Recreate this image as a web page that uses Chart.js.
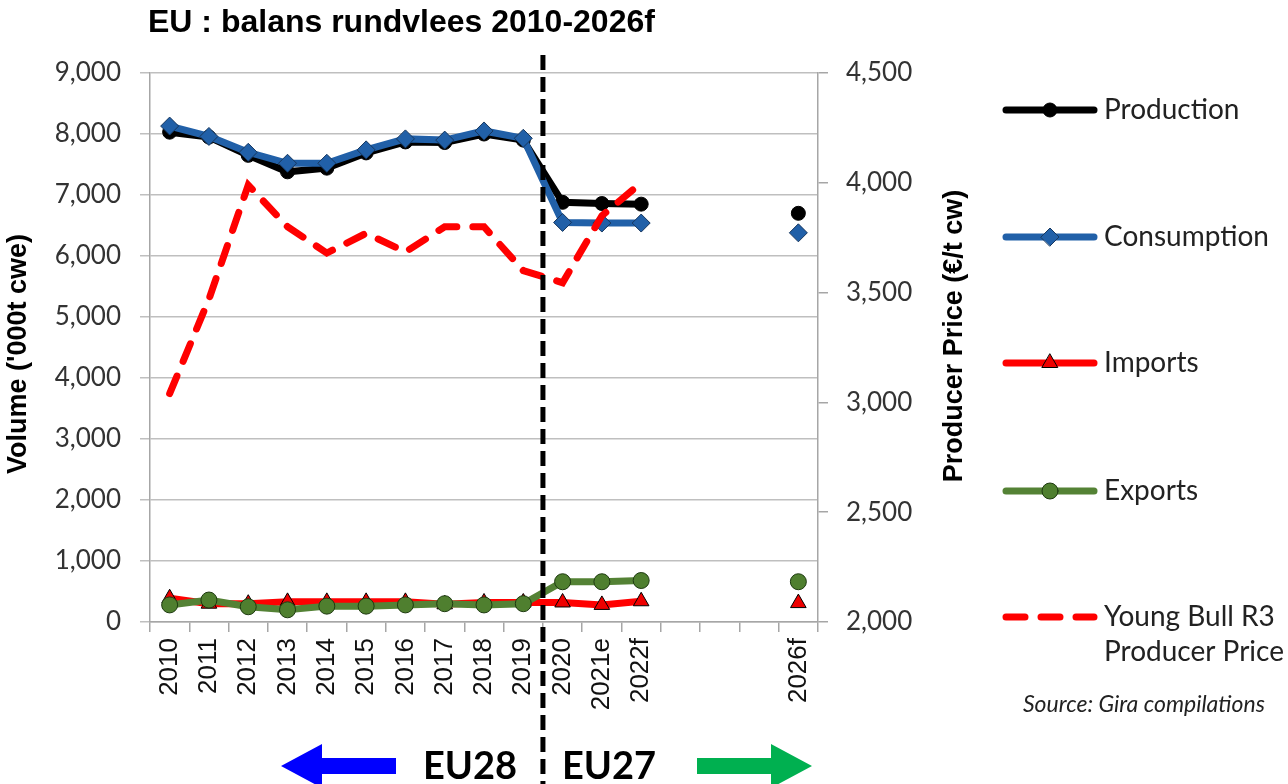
<!DOCTYPE html>
<html>
<head>
<meta charset="utf-8">
<title>EU : balans rundvlees 2010-2026f</title>
<script src="https://cdn.jsdelivr.net/npm/chart.js@4/dist/chart.umd.min.js"></script>
<style>
  html, body { margin: 0; padding: 0; background: #fff; }
  canvas { display: block; }
</style>
</head>
<body>
<canvas id="balance" width="1288" height="784"></canvas>
<script>
const chartTitle = 'EU : balans rundvlees 2010-2026f';
const years = ['2010', '2011', '2012', '2013', '2014', '2015', '2016', '2017', '2018', '2019', '2020', '2021e', '2022f', '', '', '', '2026f'];

// volume, '000t cwe
const production  = [8030, 7950, 7650, 7380, 7440, 7690, 7870, 7860, 8000, 7900, 6880, 6860, 6850, null, null, null, 6700];
const consumption = [8130, 7960, 7700, 7520, 7520, 7740, 7920, 7900, 8050, 7930, 6550, 6540, 6540, null, null, null, 6380];
const imports     = [390, 300, 300, 330, 330, 330, 330, 290, 320, 320, 320, 280, 340, null, null, null, 310];
const exports     = [280, 360, 250, 200, 260, 260, 280, 300, 280, 300, 660, 660, 680, null, null, null, 660];
// young bull R3, EUR/t cw
const bullPrice   = [3040, 3470, 3990, 3800, 3680, 3770, 3685, 3800, 3800, 3600, 3545, 3850, 4000, null, null, null, null];

const volumeTicks = [0, 9000, 1000];
const priceTicks = [2000, 4500, 500];

const seriesNames = ['Production', 'Consumption', 'Imports', 'Exports', 'Young Bull R3|Producer Price'];
const legendY = [110, 237, 363, 491, 617];

const fmt = v => v.toLocaleString('en-US');

const extras = {
  id: 'extras',
  afterDraw(chart) {
    const ctx = chart.ctx;
    const xs = chart.scales.x;
    ctx.save();

    // title
    ctx.fillStyle = '#000';
    ctx.textBaseline = 'middle';
    ctx.textAlign = 'left';
    ctx.font = 'bold 32px "Liberation Sans", Arial, sans-serif';
    ctx.fillText(chartTitle, 148, 23);

    // axis titles
    ctx.font = 'bold 27px "Liberation Sans", Arial, sans-serif';
    ctx.textAlign = 'center';
    ctx.save();
    ctx.translate(19, 354);
    ctx.rotate(-Math.PI / 2);
    ctx.fillText("Volume ('000t cwe)", 0, 0);
    ctx.restore();
    ctx.save();
    ctx.translate(955, 336);
    ctx.rotate(-Math.PI / 2);
    ctx.fillText('Producer Price (€/t cw)', 0, 0);
    ctx.restore();

    // EU28 / EU27 divider
    const divX = (xs.getPixelForValue(9) + xs.getPixelForValue(10)) / 2;
    ctx.strokeStyle = '#000';
    ctx.lineWidth = 5;
    ctx.setLineDash([15, 7]);
    ctx.beginPath();
    ctx.moveTo(divX, 55);
    ctx.lineTo(divX, 784);
    ctx.stroke();
    ctx.setLineDash([]);

    // legend
    chart.data.datasets.forEach((ds, i) => {
      const y = legendY[i];
      ctx.strokeStyle = ds.borderColor;
      ctx.lineWidth = ds.borderWidth;
      ctx.lineCap = 'round';
      ctx.setLineDash(ds.borderDash || []);
      ctx.beginPath();
      ctx.moveTo(1006, y);
      ctx.lineTo(1094, y);
      ctx.stroke();
      ctx.setLineDash([]);
      if (ds.pointRadius > 0) {
        ctx.fillStyle = ds.pointBackgroundColor;
        ctx.strokeStyle = ds.pointBorderColor;
        ctx.lineWidth = ds.pointBorderWidth;
        Chart.helpers.drawPoint(ctx, {
          pointStyle: ds.pointStyle, radius: ds.pointRadius,
          borderWidth: ds.pointBorderWidth, rotation: 0
        }, 1050, y);
      }
      ctx.fillStyle = '#222';
      ctx.font = '28px Lato, "Open Sans", sans-serif';
      ctx.textAlign = 'left';
      seriesNames[i].split('|').forEach((line, j) => {
        ctx.fillText(line, 1104, y + j * 35);
      });
    });

    ctx.font = 'italic 23px Lato, "Open Sans", sans-serif';
    ctx.fillStyle = '#222';
    ctx.fillText('Source: Gira compilations', 1023, 705);

    // arrows
    const arrow = (tail, tip, color) => {
      const dir = Math.sign(tip - tail);
      const base = tip - dir * 41;
      const cy = 766;
      ctx.fillStyle = color;
      ctx.beginPath();
      ctx.moveTo(tail, cy - 8);
      ctx.lineTo(base, cy - 8);
      ctx.lineTo(base, cy - 22);
      ctx.lineTo(tip, cy);
      ctx.lineTo(base, cy + 22);
      ctx.lineTo(base, cy + 8);
      ctx.lineTo(tail, cy + 8);
      ctx.closePath();
      ctx.fill();
    };
    arrow(396, 281, '#0000FF');
    arrow(697, 812, '#00B050');

    ctx.fillStyle = '#000';
    ctx.font = 'bold 38px Lato, "Open Sans", sans-serif';
    ctx.textAlign = 'center';
    ctx.fillText('EU28', 470, 767);
    ctx.fillText('EU27', 609, 767);

    ctx.restore();
  }
};

const tickFont = { family: 'Lato, "Open Sans", sans-serif', size: 26 };

new Chart(document.getElementById('balance'), {
  type: 'line',
  data: {
    labels: years,
    datasets: [{
      label: 'Production',
      data: production,
      yAxisID: 'y',
      borderColor: '#000000',
      borderWidth: 7,
      pointStyle: 'circle',
      pointRadius: 7,
      pointBackgroundColor: '#000000',
      pointBorderColor: '#000000',
      pointBorderWidth: 1,
      order: 5
    }, {
      label: 'Consumption',
      data: consumption,
      yAxisID: 'y',
      borderColor: '#2160A8',
      borderWidth: 7,
      pointStyle: 'rectRot',
      pointRadius: 9,
      pointBackgroundColor: '#2160A8',
      pointBorderColor: '#17375E',
      pointBorderWidth: 1,
      order: 4
    }, {
      label: 'Imports',
      data: imports,
      yAxisID: 'y',
      borderColor: '#FF0000',
      borderWidth: 7,
      pointStyle: 'triangle',
      pointRadius: 9,
      pointBackgroundColor: '#EE0000',
      pointBorderColor: '#000000',
      pointBorderWidth: 1,
      order: 3
    }, {
      label: 'Exports',
      data: exports,
      yAxisID: 'y',
      borderColor: '#548235',
      borderWidth: 7,
      pointStyle: 'circle',
      pointRadius: 8,
      pointBackgroundColor: '#4F7F2F',
      pointBorderColor: '#1E3A10',
      pointBorderWidth: 1,
      order: 2
    }, {
      label: 'Young Bull R3 Producer Price',
      data: bullPrice,
      yAxisID: 'y2',
      borderColor: '#FF0000',
      borderWidth: 7,
      borderDash: [19, 16],
      borderCapStyle: 'round',
      pointRadius: 0,
      order: 1
    }]
  },
  options: {
    responsive: false,
    animation: false,
    events: [],
    layout: { padding: { top: 73, right: 318, bottom: 0, left: 0 } },
    plugins: {
      legend: { display: false },
      tooltip: { enabled: false }
    },
    scales: {
      x: {
        offset: true,
        grid: { offset: true, drawOnChartArea: false, tickLength: 10, color: '#A6A6A6', lineWidth: 1.5 },
        border: { color: '#A6A6A6', width: 1.5 },
        ticks: {
          autoSkip: false, minRotation: 90, maxRotation: 90, padding: 6,
          color: '#111', font: { family: '"Liberation Sans", Arial, sans-serif', size: 26 }
        },
        afterFit: s => { s.height = 162; }
      },
      y: {
        position: 'left',
        min: volumeTicks[0], max: volumeTicks[1],
        grid: { color: '#BFBFBF', lineWidth: 1.5, tickLength: 10 },
        border: { color: '#A6A6A6', width: 1.5 },
        ticks: { stepSize: volumeTicks[2], padding: 19, color: '#333', font: tickFont, callback: fmt },
        afterFit: s => { s.width = 150; }
      },
      y2: {
        position: 'right',
        min: priceTicks[0], max: priceTicks[1],
        grid: { drawOnChartArea: false, color: '#A6A6A6', lineWidth: 1.5, tickLength: 10 },
        border: { color: '#A6A6A6', width: 1.5 },
        ticks: { stepSize: priceTicks[2], padding: 18, color: '#333', font: tickFont, callback: fmt },
        afterFit: s => { s.width = 152; }
      }
    }
  },
  plugins: [extras]
});
</script>
</body>
</html>
